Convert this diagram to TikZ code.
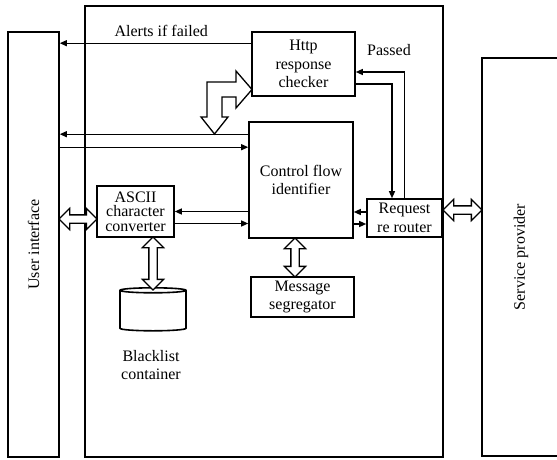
\documentclass[tikz,border=0pt]{standalone}
\usepackage{fontspec}
\setmainfont{Liberation Serif}
\usetikzlibrary{shapes.geometric, shapes.arrows, arrows.meta, positioning, calc}

\begin{document}
\begin{tikzpicture}[
        x=1pt, y=1pt,
        font=\fontsize{16}{18.5}\selectfont,
        block/.style={draw, line width=1.6pt, align=center, inner sep=1pt},
        store/.style={cylinder, shape border rotate=90, draw, line width=1.6pt, aspect=0.75},
        flow/.style={-{Triangle[length=7pt, width=6pt]}, line width=1.2pt},
        hollow/.style={draw, line width=1.3pt, fill=white, line join=miter},
        dblarrow/.style={double arrow, draw, line width=1.3pt, fill=white, inner xsep=0pt, inner ysep=3.5pt, double arrow head extend=6.5pt, minimum width=20pt},
        lbl/.style={align=center}
    ]
        \useasboundingbox (0,0) rectangle (557,459);

        % Outer blocks
        \node[block, minimum width=51pt, minimum height=425pt] (ui) at (33.5,214.5) {};
        \node[rotate=90] at (ui.center) {User interface};
        \node[block, minimum width=358pt, minimum height=451pt] (sys) at (264,227.5) {};
        \node[block, minimum width=78pt, minimum height=398pt] (sp) at (521,202) {};
        \node[rotate=90] at (sp.center) {Service provider};

        % Inner blocks
        \node[block, minimum width=103pt, minimum height=64pt] (http) at (303.5,395) {Http\\response\\checker};
        \node[block, minimum width=104pt, minimum height=116pt] (ctrl) at (301,279) {Control flow\\identifier};
        \node[block, minimum width=77pt, minimum height=51pt, font=\fontsize{16}{14.5}\selectfont] (ascii) at (135.5,247.5) {ASCII\\character\\converter};
        \node[block, minimum width=75pt, minimum height=38pt] (req) at (404.5,241) {Request\\re router};
        \node[block, minimum width=103pt, minimum height=40pt] (msg) at (302.5,162) {Message\\segregator};
        \node[store, minimum width=66pt, minimum height=43pt] (bl) at (153,147.5) {};
        \node[lbl] (blcap) at (151,94) {Blacklist\\container};

        % Helper points
        \coordinate (c2) at ([yshift=-26pt]ctrl.north west);
        \coordinate (r2) at ([yshift=-6pt]req.west);

        % Plain connectors
        \draw[flow] ([yshift=-12pt]http.north west) coordinate (alert) -- (alert -| ui.east)
            node[lbl, above=3pt, pos=0.47] {Alerts if failed};
        \draw[flow] ([yshift=-13pt]ctrl.north west) coordinate (c1) -- (c1 -| ui.east);
        \draw[flow] (ui.east |- c2) -- (c2);
        \draw[flow] (ctrl.west |- ascii.east) -- (ascii.east);
        \draw[flow] ([yshift=-12pt]ascii.east) coordinate (a2) -- (a2 -| ctrl.west);
        \draw[flow] ([yshift=6pt]req.west) coordinate (r1) -- (r1 -| ctrl.east);
        \draw[flow] (r2 -| ctrl.east) -- (r2);
        \draw[flow] ([yshift=-20pt]http.east) -| ([xshift=-12.5pt]req.north);
        \draw[flow] (req.north) |- ([yshift=-8pt]http.east);
        \node[lbl] (passed) at (389,409) {Passed};

        % Hollow arrows
        \node[dblarrow, minimum height=38pt] (h1) at (78,240) {};
        \node[dblarrow, minimum height=53pt, rotate=90] (h2) at (153,195.5) {};
        \node[dblarrow, minimum height=39pt, rotate=90] (h3) at (295,201.5) {};
        \node[dblarrow, minimum height=39pt] (h4) at (462.5,249) {};
        \draw[hollow] (214.5,325) -- (228,342) -- (222,342) -- (222,362) -- (236,362) -- (236,351)
            -- (252,369.5) -- (236,388) -- (236,377) -- (207,377) -- (207,342) -- (201,342) -- cycle;

    \end{tikzpicture}
\end{document}
